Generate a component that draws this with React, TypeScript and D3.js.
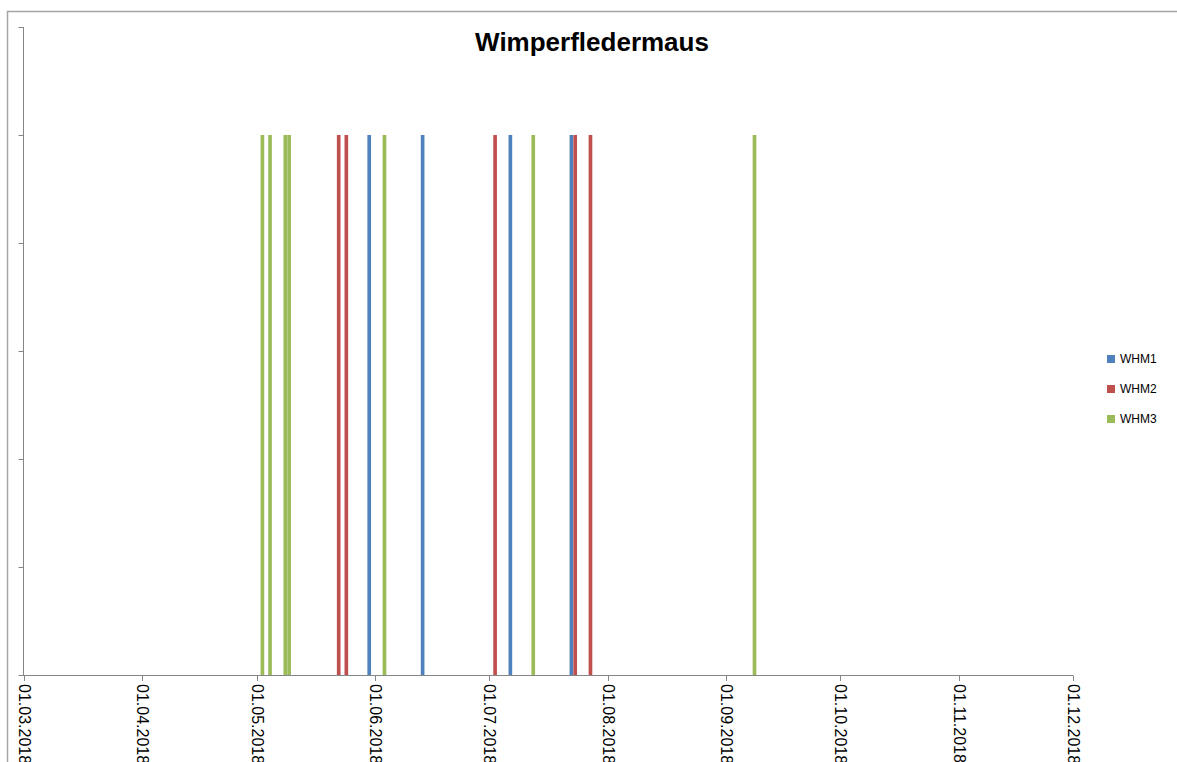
import React, { useEffect, useRef } from "react";
import * as d3 from "d3";

const seriesNames = ["WHM1", "WHM2", "WHM3"];
const seriesColors = ["#4F81BD", "#C0504D", "#9BBB59"];

// observation dates (value 1 on each)
const whm1Dates = ["2018-05-30", "2018-06-13", "2018-07-06", "2018-07-22"];
const whm2Dates = ["2018-05-22", "2018-05-24", "2018-07-02", "2018-07-23", "2018-07-27"];
const whm3Dates = ["2018-05-02", "2018-05-04", "2018-05-08", "2018-05-09", "2018-06-03", "2018-07-12", "2018-09-08"];
const whm1Values = [1, 1, 1, 1];
const whm2Values = [1, 1, 1, 1, 1];
const whm3Values = [1, 1, 1, 1, 1, 1, 1];

const xTickDates = ["2018-03-01", "2018-04-01", "2018-05-01", "2018-06-01", "2018-07-01", "2018-08-01", "2018-09-01", "2018-10-01", "2018-11-01", "2018-12-01"];
const yTicks = [0, 0.2, 0.4, 0.6, 0.8, 1.0, 1.2];

const W = 1177, H = 762;

export default function App() {
  const ref = useRef<SVGSVGElement>(null);

  useEffect(() => {
    document.body.style.margin = "0";
    const svg = d3.select(ref.current);
    svg.selectAll("*").remove();

    const parse = (s: string) => new Date(s + "T00:00:00Z");
    const x = d3.scaleUtc().domain([parse("2018-03-01"), parse("2018-12-01")]).range([24, 1073]);
    const y = d3.scaleLinear().domain([0, 1.2]).range([675, 27]);

    svg.append("rect").attr("width", W).attr("height", H).attr("fill", "#fff");
    // chart frame
    svg.append("path").attr("d", `M7.5,${H + 2} V11.5 H${W + 2}`).attr("fill", "none").attr("stroke", "#a5a5a5").attr("stroke-width", 1.5);

    // title
    svg.append("text").attr("x", 592).attr("y", 51).attr("text-anchor", "middle")
      .attr("font-family", "'Liberation Sans', Arial, sans-serif").attr("font-weight", "bold").attr("font-size", 26)
      .attr("fill", "#000").text("Wimperfledermaus");

    // bars
    const all = [
      { dates: whm1Dates, values: whm1Values },
      { dates: whm2Dates, values: whm2Values },
      { dates: whm3Dates, values: whm3Values },
    ];
    all.forEach((s, i) => {
      const g = svg.append("g");
      s.dates.forEach((ds, j) => {
        const d0 = parse(ds);
        const d1 = d3.utcDay.offset(d0, 1);
        const x0 = x(d0), x1 = x(d1);
        const w = (x1 - x0) * 0.96;
        g.append("rect")
          .attr("x", x0 + (x1 - x0 - w) / 2)
          .attr("y", y(s.values[j]))
          .attr("width", w)
          .attr("height", y(0) - y(s.values[j]))
          .attr("fill", seriesColors[i]);
      });
    });

    const axisColor = "#868686";
    // y axis
    const ya = svg.append("g");
    ya.append("line").attr("x1", 23.5).attr("x2", 23.5).attr("y1", y(1.2)).attr("y2", y(0)).attr("stroke", axisColor);
    yTicks.forEach(t => {
      ya.append("line").attr("x1", 18.5).attr("x2", 23.5).attr("y1", Math.round(y(t)) + 0.5).attr("y2", Math.round(y(t)) + 0.5).attr("stroke", axisColor);
    });

    // x axis
    const xa = svg.append("g");
    xa.append("line").attr("x1", 23).attr("x2", x(parse("2018-12-01"))).attr("y1", 675.5).attr("y2", 675.5).attr("stroke", axisColor);
    xTickDates.forEach(ds => {
      const px = Math.round(x(parse(ds))) + 0.5;
      xa.append("line").attr("x1", px).attr("x2", px).attr("y1", 675.5).attr("y2", 681).attr("stroke", axisColor);
      xa.append("text")
        .attr("transform", `translate(${px},684) rotate(90)`)
        .attr("dy", "0.35em")
        .attr("font-family", "'Liberation Sans', Arial, sans-serif").attr("font-size", 16)
        .attr("fill", "#000")
        .text(d3.utcFormat("%d.%m.%Y")(parse(ds)));
    });

    // legend
    const lg = svg.append("g");
    seriesNames.forEach((n, i) => {
      const cy = 359 + i * 30;
      lg.append("rect").attr("x", 1107).attr("y", cy - 4).attr("width", 8).attr("height", 8).attr("fill", seriesColors[i]);
      lg.append("text").attr("x", 1120).attr("y", cy).attr("dy", "0.35em")
        .attr("font-family", "'Liberation Sans', Arial, sans-serif").attr("font-size", 12).attr("fill", "#000").text(n);
    });
  }, []);

  return <svg ref={ref} width={W} height={H} style={{ display: "block" }} />;
}
